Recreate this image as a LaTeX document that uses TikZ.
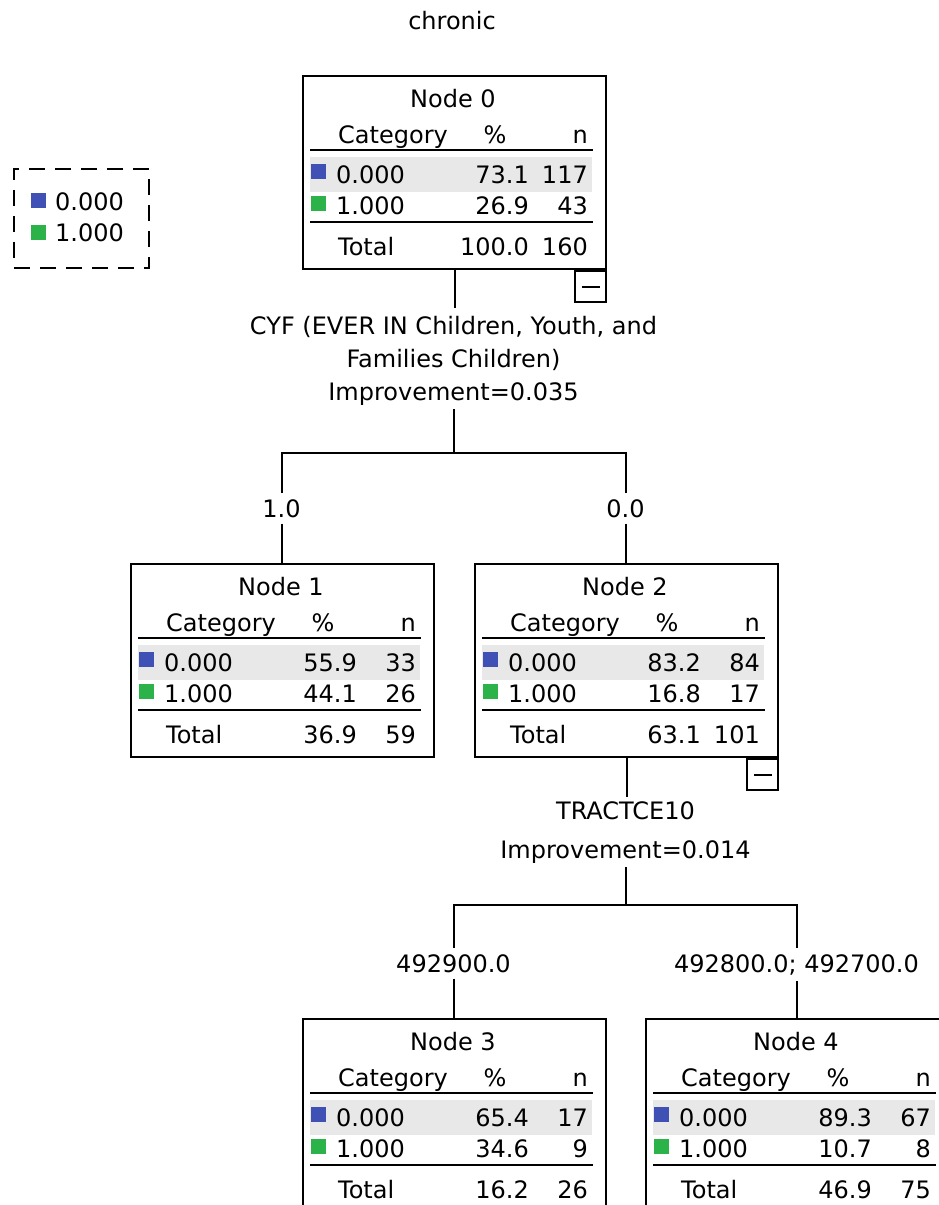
\documentclass[tikz,border=0pt]{standalone}
\usepackage{fontspec}
\setmainfont{DejaVu Sans}
\usepackage{xcolor}
\usetikzlibrary{positioning}

\definecolor{catblue}{RGB}{63,81,181}
\definecolor{catgreen}{RGB}{43,178,72}
\definecolor{rowgray}{RGB}{232,232,232}

% one tree node: #1 number, #2 top-left corner, #3--#8 table values
\newcommand{\catnode}[8]{%
  \begin{scope}[shift={(#2)}]
    \node[catbox, anchor=north west] (node#1) at (0,0) {};
    \fill[rowgray] (8,82) rectangle (290,117);
    \node[txt, anchor=base] (node#1-title) at (151,32) {Node #1};
    \node[txt, anchor=base west] (node#1-cat) at (36,68) {Category};
    \node[txt, anchor=base] (node#1-pct) at (193,68) {\%};
    \node[txt, anchor=base east] (node#1-n) at (286,68) {n};
    \draw[rule] (8,75) -- (291,75);
    \node[swatch, fill=catblue] (node#1-sq0) at (16.5,96) {};
    \node[txt, anchor=base west] (node#1-c0) at (34,108) {0.000};
    \node[txt, anchor=base east] (node#1-p0) at (227,108) {#3};
    \node[txt, anchor=base east] (node#1-n0) at (286,108) {#4};
    \node[swatch, fill=catgreen] (node#1-sq1) at (16.5,128) {};
    \node[txt, anchor=base west] (node#1-c1) at (34,139) {1.000};
    \node[txt, anchor=base east] (node#1-p1) at (227,139) {#5};
    \node[txt, anchor=base east] (node#1-n1) at (286,139) {#6};
    \draw[rule] (8,147) -- (291,147);
    \node[txt, anchor=base west] (node#1-tot) at (36,180) {Total};
    \node[txt, anchor=base east] (node#1-pt) at (227,180) {#7};
    \node[txt, anchor=base east] (node#1-nt) at (286,180) {#8};
  \end{scope}}

\begin{document}
\begin{tikzpicture}[
      x=1pt, y=-1pt,
      txt/.style={inner sep=0pt, font=\fontsize{24}{33}\selectfont},
      catbox/.style={draw, line width=2pt, inner sep=0pt,
                     minimum width=303pt, minimum height=193pt},
      rule/.style={line width=2pt},
      swatch/.style={inner sep=0pt, minimum size=15pt},
      minusbox/.style={draw, line width=2pt, inner sep=0pt, minimum size=31pt},
      split/.style={txt, align=center, inner ysep=4pt},
      branch/.style={txt, inner ysep=6pt},
      link/.style={line width=2pt}
    ]
    \useasboundingbox (0,0) rectangle (939,1205);
    \clip (0,0) rectangle (939,1205);

    \node[txt, anchor=base] (title) at (452,29) {chronic};

    % legend
    \node[draw, line width=2pt, dash pattern=on 16pt off 10pt, inner sep=0pt,
          minimum width=135pt, minimum height=99pt, anchor=north west] (legend) at (13,168) {};
    \node[swatch, fill=catblue] (leg-sq0) at (38.5,200) {};
    \node[txt, anchor=base west] (leg0) at (55,210) {0.000};
    \node[swatch, fill=catgreen] (leg-sq1) at (38.5,232) {};
    \node[txt, anchor=base west] (leg1) at (55,241) {1.000};

    \catnode{0}{302,75}{73.1}{117}{26.9}{43}{100.0}{160}
    \catnode{1}{130,563}{55.9}{33}{44.1}{26}{36.9}{59}
    \catnode{2}{474,563}{83.2}{84}{16.8}{17}{63.1}{101}
    \catnode{3}{302,1018}{65.4}{17}{34.6}{9}{16.2}{26}
    \catnode{4}{645,1018}{89.3}{67}{10.7}{8}{46.9}{75}

    \node[minusbox, anchor=north east] (node0-fold) at (node0.south east) {\rule{18pt}{2pt}};
    \node[minusbox, anchor=north east] (node2-fold) at (node2.south east) {\rule{18pt}{2pt}};

    % first split
    \node[split, inner ysep=8pt, anchor=north] (var0) at (453.5,308)
         {CYF (EVER IN Children, Youth, and\\Families Children)};
    \node[split, anchor=base] (imp0) at (453.5,400) {Improvement=0.035};
    \coordinate (fork0) at (453.5,453);
    \node[branch, anchor=base] (lab1) at (281.5,517) {1.0};
    \node[branch, anchor=base] (lab2) at (625.5,517) {0.0};
    \draw[link] (node0.south) -- (node0.south |- var0.north);
    \draw[link] (imp0.south) -- (fork0);
    \draw[link] (fork0) -| (lab1.north);
    \draw[link] (fork0) -| (lab2.north);
    \draw[link] (lab1.south) -- (lab1.south |- node1.north);
    \draw[link] (lab2.south) -- (lab2.south |- node2.north);

    % second split
    \node[split, anchor=base] (var2) at (625.5,819) {TRACTCE10};
    \node[split, anchor=base] (imp2) at (625.5,858) {Improvement=0.014};
    \coordinate (fork2) at (625.5,905);
    \node[branch, anchor=base] (lab3) at (453.5,972) {492900.0};
    \node[branch, anchor=base] (lab4) at (796.5,972) {492800.0; 492700.0};
    \draw[link] (node2.south) -- (node2.south |- var2.north);
    \draw[link] (imp2.south) -- (fork2);
    \draw[link] (fork2) -| (lab3.north);
    \draw[link] (fork2) -| (lab4.north);
    \draw[link] (lab3.south) -- (lab3.south |- node3.north);
    \draw[link] (lab4.south) -- (lab4.south |- node4.north);
  \end{tikzpicture}
\end{document}
